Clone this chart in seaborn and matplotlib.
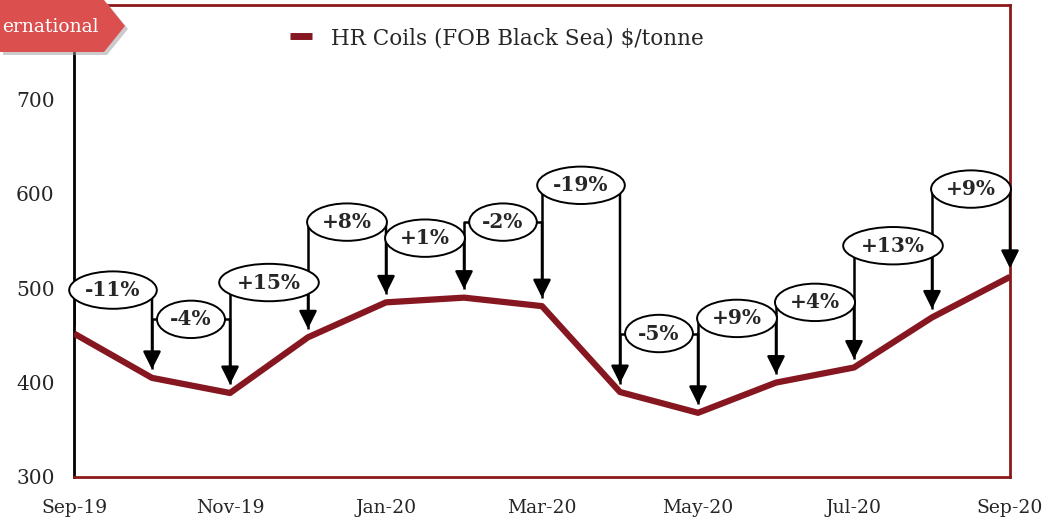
import matplotlib
matplotlib.use("Agg")
import matplotlib.pyplot as plt
from matplotlib.patches import Polygon
import seaborn as sns
import pandas as pd

# ---- data ----
months = ["Sep-19", "Oct-19", "Nov-19", "Dec-19", "Jan-20", "Feb-20", "Mar-20",
          "Apr-20", "May-20", "Jun-20", "Jul-20", "Aug-20", "Sep-20"]
prices = [452, 405, 389, 448, 485, 490, 481, 390, 368, 400, 416, 469, 512]
change_labels = ["-11%", "-4%", "+15%", "+8%", "+1%", "-2%", "-19%",
                 "-5%", "+9%", "+4%", "+13%", "+9%"]
bracket_levels = [498, 467, 506, 570, 553, 570, 609, 452, 468, 485, 545, 605]
series_name = "HR Coils (FOB Black Sea) $/tonne"
yticks = [300, 400, 500, 600, 700]
tag_text = "ernational"

LINE_COLOR = "#861620"
BORDER_COLOR = "#8B1A1A"
TAG_COLOR = "#DC4F4F"

sns.set_style("white")
plt.rcParams["font.family"] = ["DejaVu Serif", "DejaVu Sans"]

W, H = 1049, 523
fig = plt.figure(figsize=(W / 100, H / 100), dpi=100)
ax = fig.add_axes([74 / W, 1 - 477 / H, (1010 - 74) / W, (477 - 5) / H])

df = pd.DataFrame({"idx": range(len(months)), "price": prices, "series": series_name})
sns.lineplot(data=df, x="idx", y="price", hue="series", palette=[LINE_COLOR],
             linewidth=4.5, ax=ax, zorder=3, solid_capstyle="butt")

ax.set_xlim(0, 12)
ax.set_ylim(300, 800)
ax.set_yticks(yticks)
ax.set_yticklabels([str(v) for v in yticks], fontsize=14.5)
ax.set_xticks(range(0, len(months), 2))
ax.set_xticklabels(months[::2], fontsize=13.5)
ax.set_xlabel("")
ax.set_ylabel("")
ax.tick_params(axis="y", direction="out", length=6, width=1.5, color="black", pad=8)
ax.tick_params(axis="x", direction="out", length=6, width=1.5, color=BORDER_COLOR, pad=10)

for side in ["top", "right", "bottom"]:
    ax.spines[side].set_color(BORDER_COLOR)
    ax.spines[side].set_linewidth(2)
ax.spines["left"].set_color("black")
ax.spines["left"].set_linewidth(2)

# ---- brackets with arrows ----
gap = 9
for i, lab in enumerate(change_labels):
    x0, x1 = i, i + 1
    h = bracket_levels[i]
    ax.plot([x0, x0, x1], [prices[i] + gap, h, h], color="black", lw=1.8,
            zorder=4, solid_capstyle="butt")
    ax.annotate("", xy=(x1, prices[i + 1] + gap), xytext=(x1, h),
                arrowprops=dict(arrowstyle="-|>,head_length=0.6,head_width=0.3",
                                color="black", lw=1.8, shrinkA=0, shrinkB=0,
                                mutation_scale=18),
                zorder=4)
    ax.text((x0 + x1) / 2, h, lab, ha="center", va="center", fontsize=14.5,
            fontweight="bold", zorder=6,
            bbox=dict(boxstyle="ellipse,pad=0.16", fc="white", ec="black", lw=1.4))

# ---- legend ----
leg = ax.legend(loc="center left", bbox_to_anchor=(290 / W, 1 - 38 / H),
                bbox_transform=fig.transFigure, frameon=False, fontsize=15.5,
                handlelength=1.0, handletextpad=0.9, borderpad=0, borderaxespad=0)
for l in leg.get_lines():
    l.set_linewidth(5)

# ---- section tag ----
def px(x, y):
    return (x / W, 1 - y / H)

pts = [(0, 0), (104, 0), (125, 26), (104, 52), (0, 52)]
shadow = Polygon([px(x + 3, y + 3) for x, y in pts], closed=True,
                 transform=fig.transFigure, fc="#999999", ec="none", alpha=0.5, zorder=10)
tag = Polygon([px(x, y) for x, y in pts], closed=True, transform=fig.transFigure,
              fc=TAG_COLOR, ec="none", zorder=11)
fig.patches.extend([shadow, tag])
fig.text(2 / W, 1 - 27 / H, tag_text, ha="left", va="center",
         color="white", fontsize=13.5, zorder=12)

fig.savefig("out.png", dpi=100)
